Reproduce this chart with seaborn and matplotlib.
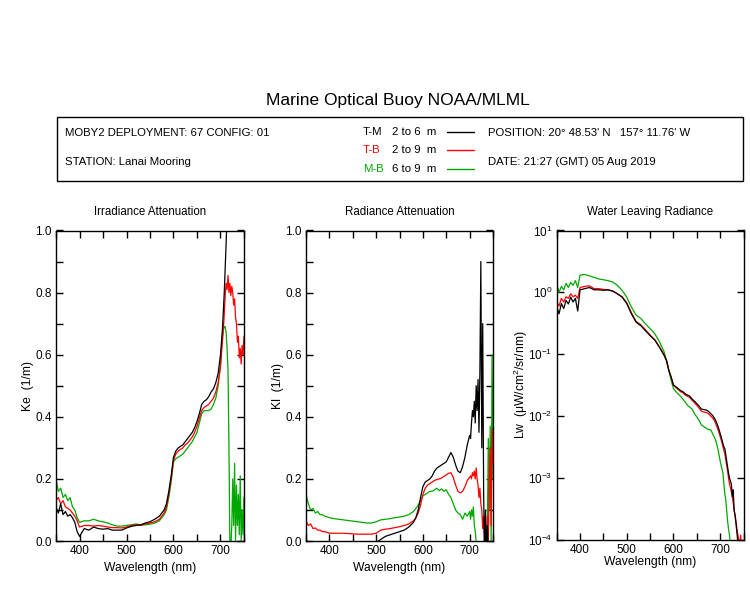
import numpy as np
import pandas as pd
import matplotlib
matplotlib.use("Agg")
import matplotlib.pyplot as plt
import seaborn as sns
from matplotlib.ticker import MultipleLocator, FormatStrFormatter, LogLocator, NullLocator
from matplotlib.patches import Rectangle
from matplotlib.lines import Line2D

# ---------------- data ----------------
WL = [350, 355, 360, 365, 370, 375, 380, 385, 390, 395, 400,
      410, 420, 430, 440, 450, 460, 470, 480, 490, 500, 510, 520, 530, 540, 550, 560, 570, 580,
      585, 590, 595, 600, 605, 610, 615, 620, 625, 630, 635, 640, 645, 650, 655, 660, 665, 670,
      675, 680, 685, 690, 695, 700,
      702, 704, 706, 708, 710, 712, 714, 716, 718, 720, 722, 724, 726, 728, 730, 732, 734, 736,
      738, 740, 742, 744, 746, 748, 750]

PAIRS = ["T-M", "T-B", "M-B"]
DEPTHS = ["2 to 6  m", "2 to 9  m", "6 to 9  m"]

NA = np.nan
# Irradiance attenuation Ke (1/m)
KE_TM = [0.11, 0.09, 0.12, 0.085, 0.095, 0.08, 0.085, 0.075, 0.06, 0.03, 0.015,
         0.04, 0.035, 0.045, 0.04, 0.038, 0.04, 0.035, 0.035, 0.035, 0.042, 0.047, 0.05, 0.052, 0.058, 0.062, 0.07, 0.08, 0.1,
         0.12, 0.16, 0.21, 0.27, 0.29, 0.3, 0.305, 0.31, 0.32, 0.33, 0.34, 0.35, 0.365, 0.385, 0.41, 0.44, 0.45, 0.455,
         0.465, 0.48, 0.49, 0.51, 0.54, 0.6,
         0.64, 0.68, 0.74, 0.8, 0.88, 0.96, 1.05, NA, NA, NA, NA, NA, NA, NA, NA, NA, NA, NA,
         NA, NA, NA, NA, NA, NA, NA]
KE_TB = [0.13, 0.14, 0.12, 0.13, 0.11, 0.105, 0.1, 0.09, 0.08, 0.065, 0.045,
         0.05, 0.05, 0.048, 0.05, 0.048, 0.045, 0.043, 0.043, 0.042, 0.045, 0.05, 0.052, 0.05, 0.055, 0.058, 0.062, 0.07, 0.09,
         0.11, 0.15, 0.2, 0.26, 0.28, 0.29, 0.295, 0.3, 0.31, 0.315, 0.325, 0.335, 0.35, 0.37, 0.395, 0.42, 0.43, 0.435,
         0.44, 0.45, 0.46, 0.48, 0.51, 0.56,
         0.6, 0.64, 0.68, 0.73, 0.79, 0.83, 0.81, 0.855, 0.8, 0.83, 0.79, 0.82, 0.8, 0.76, 0.78, 0.72, 0.7, 0.64,
         0.66, 0.59, 0.62, 0.57, 0.63, 0.6, 0.66]
KE_MB = [0.2, 0.16, 0.17, 0.14, 0.15, 0.13, 0.14, 0.11, 0.1, 0.075, 0.06,
         0.065, 0.065, 0.07, 0.065, 0.062, 0.058, 0.052, 0.048, 0.048, 0.05, 0.052, 0.055, 0.052, 0.052, 0.054, 0.058, 0.065, 0.085,
         0.1, 0.14, 0.19, 0.255, 0.265, 0.27, 0.275, 0.28, 0.29, 0.3, 0.31, 0.32, 0.335, 0.35, 0.38, 0.41, 0.42, 0.42,
         0.42, 0.425, 0.44, 0.46, 0.5, 0.57,
         0.62, 0.66, 0.68, 0.69, 0.69, 0.67, 0.62, 0.55, 0.3, -0.02, -0.02, 0.05, 0.2, 0.05, 0.25, 0.0, 0.18, 0.05,
         0.15, 0.02, 0.21, 0.0, 0.1, 0.02, 0.14]

# Radiance attenuation Kl (1/m)
KL_TM = [0.01, -0.02, -0.03, -0.03, -0.03, -0.03, -0.03, -0.03, -0.03, -0.03, -0.03,
         -0.03, -0.03, -0.03, -0.03, -0.03, -0.03, -0.03, -0.03, -0.02, -0.005, 0.005, 0.015, 0.02, 0.025, 0.03, 0.035, 0.045, 0.06,
         0.075, 0.1, 0.14, 0.175, 0.19, 0.195, 0.2, 0.21, 0.225, 0.235, 0.24, 0.245, 0.25, 0.255, 0.27, 0.285, 0.27, 0.245,
         0.225, 0.22, 0.24, 0.27, 0.31, 0.34,
         0.33, 0.38, 0.42, 0.4, 0.45, 0.38, 0.5, 0.42, 0.52, 0.35, 0.55, 0.9, 0.3, 0.7, 0.15, -0.05, 0.1, -0.05,
         0.05, -0.05, -0.05, -0.05, -0.05, -0.05, -0.05]
KL_TB = [0.065, 0.05, 0.055, 0.04, 0.042, 0.035, 0.035, 0.03, 0.03, 0.028, 0.025,
         0.025, 0.025, 0.025, 0.024, 0.023, 0.022, 0.022, 0.022, 0.022, 0.025, 0.035, 0.038, 0.04, 0.043, 0.046, 0.05, 0.055, 0.065,
         0.075, 0.09, 0.115, 0.15, 0.17, 0.18, 0.185, 0.19, 0.195, 0.198, 0.2, 0.203, 0.208, 0.213, 0.218, 0.22, 0.205, 0.18,
         0.16, 0.155, 0.16, 0.175, 0.195, 0.205,
         0.21, 0.2, 0.22, 0.21, 0.225, 0.2, 0.235, 0.2, 0.18, 0.14, 0.17, 0.12, 0.1, 0.04, 0.08, -0.02, 0.0, -0.02,
         0.08, 0.0, 0.2, 0.3, 0.05, 0.36, 0.25]
KL_MB = [0.15, 0.12, 0.1, 0.105, 0.09, 0.095, 0.085, 0.085, 0.08, 0.078, 0.075,
         0.072, 0.07, 0.068, 0.066, 0.064, 0.062, 0.06, 0.058, 0.058, 0.062, 0.068, 0.07, 0.072, 0.075, 0.077, 0.08, 0.085, 0.095,
         0.105, 0.115, 0.13, 0.145, 0.15, 0.155, 0.16, 0.16, 0.165, 0.17, 0.162, 0.168, 0.16, 0.165, 0.15, 0.14, 0.12, 0.1,
         0.09, 0.085, 0.07, 0.09, 0.08, 0.095,
         0.07, 0.1, 0.08, 0.11, 0.05, 0.03, 0.0, -0.03, -0.05, -0.05, -0.05, -0.05, -0.05, -0.05, -0.05, -0.05, -0.05, -0.05,
         0.05, 0.33, 0.1, 0.37, 0.0, 0.6, 0.2]

# Water leaving radiance Lw (uW/cm^2/sr/nm)
LW_TM = [0.58, 0.45, 0.66, 0.55, 0.74, 0.65, 0.84, 0.7, 0.8, 0.5, 1.1,
         1.15, 1.2, 1.1, 1.1, 1.08, 1.1, 1.05, 0.95, 0.84, 0.66, 0.45, 0.33, 0.29, 0.24, 0.2, 0.17, 0.13, 0.096,
         0.08, 0.055, 0.043, 0.032, 0.03, 0.028, 0.026, 0.025, 0.023, 0.022, 0.021, 0.019, 0.0175, 0.016, 0.0145, 0.013, 0.0128, 0.0126,
         0.012, 0.011, 0.01, 0.0087, 0.007, 0.0053,
         0.0047, 0.0041, 0.0036, 0.0032, 0.003, 0.0024, 0.0019, 0.0015, 0.0012, 0.001, 0.0009, 0.0008, 0.0005, 0.00065, 0.0003, 0.00025, 0.00018, 0.00013,
         0.00009, 0.00005, 0.00003, 0.00003, 0.00003, 0.00003, 0.00003]
LW_TB = [0.7, 0.6, 0.8, 0.7, 0.85, 0.8, 0.95, 0.85, 0.9, 0.8, 1.2,
         1.25, 1.28, 1.15, 1.15, 1.12, 1.1, 1.05, 0.95, 0.85, 0.68, 0.47, 0.34, 0.3, 0.25, 0.205, 0.172, 0.132, 0.098,
         0.08, 0.056, 0.043, 0.032, 0.029, 0.027, 0.025, 0.024, 0.022, 0.021, 0.02, 0.018, 0.0165, 0.015, 0.0135, 0.012, 0.0117, 0.0115,
         0.011, 0.01, 0.0092, 0.0078, 0.0062, 0.0047,
         0.0042, 0.0037, 0.0032, 0.0028, 0.0025, 0.002, 0.0016, 0.0013, 0.001, 0.0008, 0.0007, 0.0006, 0.0005, 0.0004, 0.0003, 0.00025, 0.0002, 0.00015,
         0.00012, 0.0001, 0.00008, 0.00012, 0.00006, 0.00005, 0.00004]
LW_MB = [1.4, 1.0, 1.25, 1.1, 1.4, 1.2, 1.45, 1.3, 1.55, 1.2, 1.9,
         1.95, 1.85, 1.75, 1.65, 1.6, 1.55, 1.47, 1.3, 1.08, 0.84, 0.58, 0.43, 0.38, 0.31, 0.26, 0.215, 0.16, 0.11,
         0.08, 0.055, 0.038, 0.028, 0.025, 0.023, 0.021, 0.019, 0.017, 0.015, 0.014, 0.013, 0.011, 0.0097, 0.0085, 0.0072, 0.0068, 0.0064,
         0.0061, 0.006, 0.005, 0.0042, 0.003, 0.0019,
         0.0016, 0.0014, 0.0012, 0.0008, 0.00056, 0.00045, 0.0003, 0.0002, 0.00015, 0.00012, 0.00008, 0.00005, 0.00005, 0.00005, 0.00005, 0.00005, 0.00005, 0.00005,
         0.00005, 0.00005, 0.00005, 0.00005, 0.00005, 0.00005, 0.00005]

COLORS = {"T-M": "#000000", "T-B": "#ff0000", "M-B": "#00a800"}
HUE_ORDER = ["M-B", "T-B", "T-M"]

# ---------------- style ----------------
sns.set_theme(style="ticks")
plt.rcParams["font.family"] = ["Liberation Sans", "DejaVu Sans"]
plt.rcParams["mathtext.fontset"] = "custom"
plt.rcParams["mathtext.rm"] = "Liberation Sans"
plt.rcParams["mathtext.it"] = "Liberation Sans:italic"
plt.rcParams["axes.edgecolor"] = "black"
plt.rcParams["xtick.color"] = "black"
plt.rcParams["ytick.color"] = "black"
plt.rcParams["text.color"] = "black"
plt.rcParams["axes.labelcolor"] = "black"

W, H = 750.0, 600.0
fig = plt.figure(figsize=(7.5, 6), dpi=100)
fig.patch.set_facecolor("white")


def make_df(tm, tb, mb):
    frames = []
    for name, vals in zip(PAIRS, [tm, tb, mb]):
        frames.append(pd.DataFrame({"wl": WL, "val": vals, "pair": name}))
    d = pd.concat(frames, ignore_index=True)
    return d.dropna()


def axes_at(left_px, right_px, top_px, bottom_px):
    return fig.add_axes([left_px / W, 1 - bottom_px / H,
                         (right_px - left_px) / W, (bottom_px - top_px) / H])


panels = [
    dict(left=56, right=244, top=230.5, bottom=541, data=(KE_TM, KE_TB, KE_MB),
         title="Irradiance Attenuation", ylabel="Ke  (1/m)", log=False, xlab_off=21, ylab_off=22),
    dict(left=306, right=493, top=230.5, bottom=541, data=(KL_TM, KL_TB, KL_MB),
         title="Radiance Attenuation", ylabel="Kl  (1/m)", log=False, xlab_off=21, ylab_off=22),
    dict(left=556.7, right=743.5, top=230.5, bottom=540, data=(LW_TM, LW_TB, LW_MB),
         title="Water Leaving Radiance", ylabel="Lw  (\u03bcW/cm$^2$/sr/nm)", log=True, xlab_off=15.5, ylab_off=27),
]

for p in panels:
    ax = axes_at(p["left"], p["right"], p["top"], p["bottom"])
    df = make_df(*p["data"])
    sns.lineplot(data=df, x="wl", y="val", hue="pair", hue_order=HUE_ORDER,
                 palette=COLORS, estimator=None, sort=False, legend=False,
                 linewidth=0.9, ax=ax)
    ax.set_xlim(350, 750)
    if p["log"]:
        ax.set_yscale("log")
        ax.set_ylim(1e-4, 10)
        ax.yaxis.set_major_locator(LogLocator(base=10, numticks=10))
        ax.yaxis.set_minor_locator(NullLocator())
    else:
        ax.set_ylim(0, 1.0)
        ax.yaxis.set_major_locator(MultipleLocator(0.2))
        ax.yaxis.set_minor_locator(MultipleLocator(0.1))
        ax.yaxis.set_major_formatter(FormatStrFormatter("%.1f"))
    ax.xaxis.set_major_locator(MultipleLocator(100))
    ax.xaxis.set_minor_locator(MultipleLocator(50))
    ax.tick_params(which="both", direction="in", length=5, width=1,
                   top=True, right=True, labelsize=8.5, pad=3)
    for s in ax.spines.values():
        s.set_linewidth(1)
        s.set_color("black")
    ax.set_facecolor("white")
    hpx = p["bottom"] - p["top"]
    wpx = p["right"] - p["left"]
    ax.text(0.5, 1 + (p["top"] - 212) / hpx, p["title"], transform=ax.transAxes,
            ha="center", va="center", fontsize=8.3)
    ax.set_xlabel("Wavelength (nm)", fontsize=8.7)
    ax.xaxis.set_label_coords(0.5, -p["xlab_off"] / hpx)
    ax.set_ylabel(p["ylabel"], fontsize=8.7)
    ax.yaxis.set_label_coords(-p["ylab_off"] / wpx, 0.5)

# ---------------- header ----------------
fig.text(398 / W, 1 - 100 / H, "Marine Optical Buoy NOAA/MLML", ha="center", va="center", fontsize=12.5)

fig.add_artist(Rectangle((57 / W, 1 - 181 / H), (743 - 57) / W, (181 - 117) / H,
                         transform=fig.transFigure, fill=False, edgecolor="black", linewidth=1))

fs = 8.2
fig.text(65 / W, 1 - 133.5 / H, "MOBY2 DEPLOYMENT: 67 CONFIG: 01", ha="left", va="center", fontsize=fs)
fig.text(65 / W, 1 - 162.5 / H, "STATION: Lanai Mooring", ha="left", va="center", fontsize=fs)
fig.text(488 / W, 1 - 133.5 / H, "POSITION: 20\u00b0 48.53' N   157\u00b0 11.76' W", ha="left", va="center", fontsize=fs)
fig.text(488 / W, 1 - 162.5 / H, "DATE: 21:27 (GMT) 05 Aug 2019", ha="left", va="center", fontsize=fs)

rows_y = [131.5, 150, 169]
for name, depth, y in zip(PAIRS, DEPTHS, rows_y):
    fig.text(363 / W, 1 - y / H, name, ha="left", va="center", fontsize=fs, color=COLORS[name])
    fig.text(392 / W, 1 - y / H, depth, ha="left", va="center", fontsize=fs, color="black")
    fig.add_artist(Line2D([447 / W, 474 / W], [1 - y / H, 1 - y / H], transform=fig.transFigure,
                          color=COLORS[name], linewidth=1))

fig.savefig("out.png", dpi=100, facecolor="white")
